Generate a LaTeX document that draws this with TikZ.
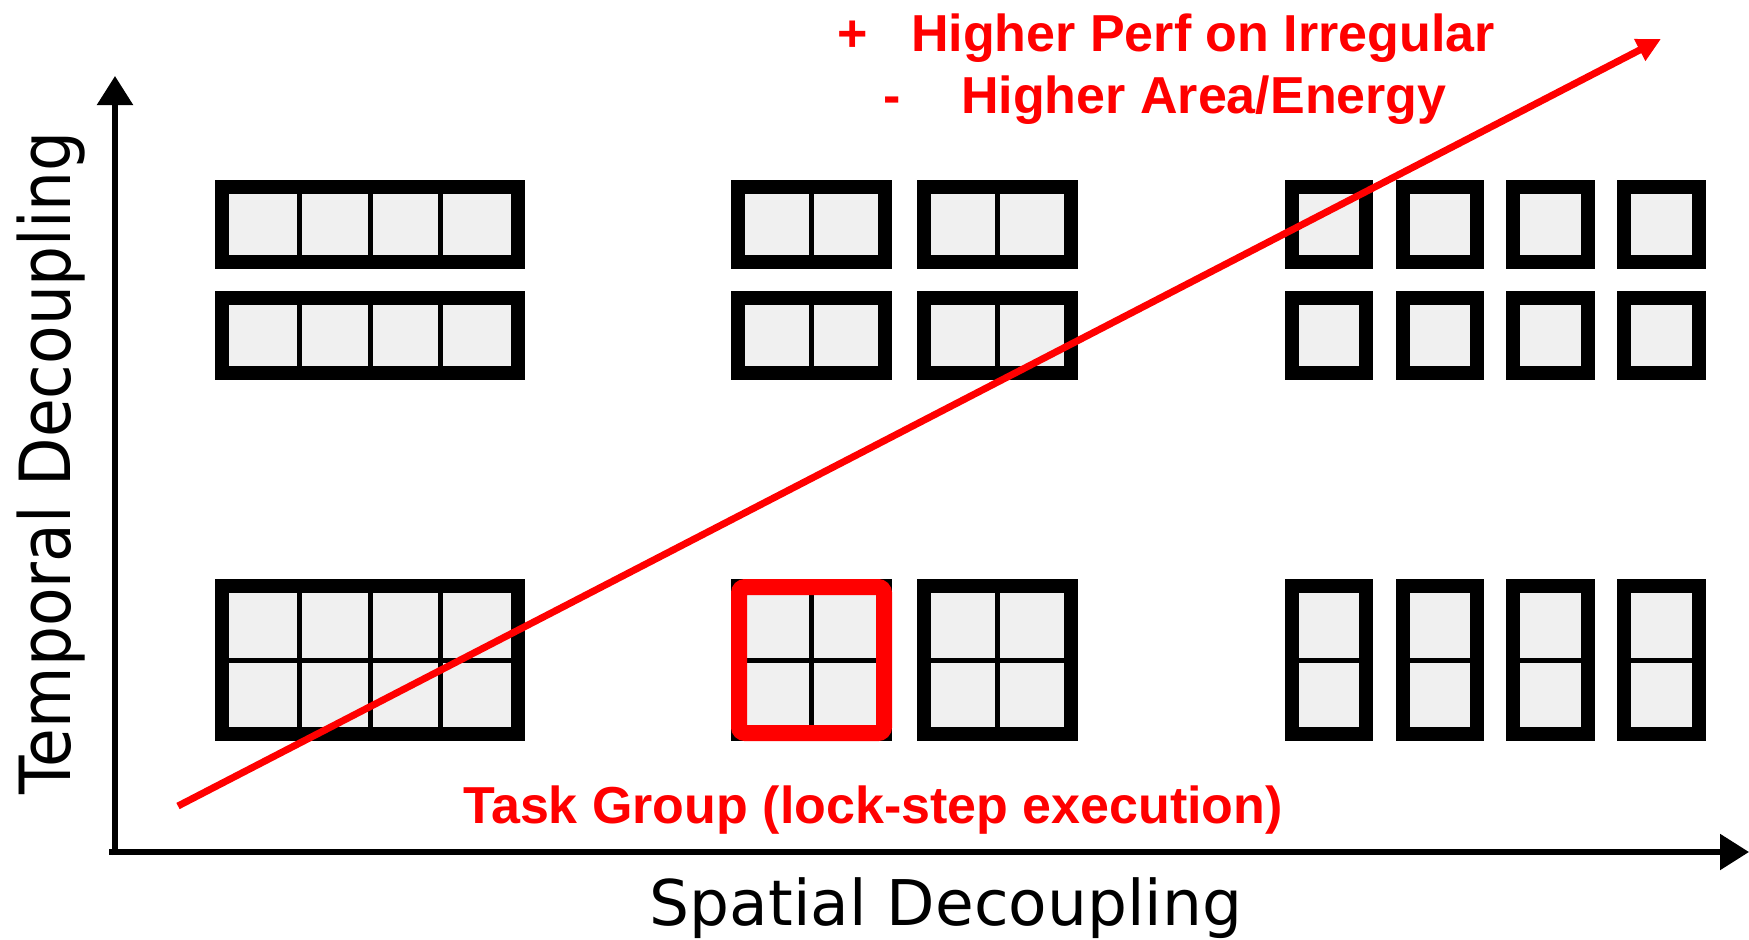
\documentclass[tikz,border=0pt]{standalone}
\usepackage{fontspec}
\usetikzlibrary{arrows.meta}
\newfontfamily\headfont{Liberation Sans}
\newfontfamily\axisfont{DejaVu Sans}
\definecolor{cellgray}{HTML}{F0F0F0}
\definecolor{hotred}{HTML}{FF0000}

% A framed panel of cells: x1, y1, x2, y2, columns, rows
\newcommand{\gridpanel}[6]{%
  \fill[black] (#1,#2) rectangle (#3,#4);
  \fill[cellgray] ({#1+14},{#2+14}) rectangle ({#3-14},{#4-14});
  \ifnum#5>1
    \foreach \i in {2,...,#5} {
      \draw[divider] ({#1+14+(\i-1)*(#3-#1-28)/#5},{#2+14}) -- ({#1+14+(\i-1)*(#3-#1-28)/#5},{#4-14});
    }
  \fi
  \ifnum#6>1
    \foreach \j in {2,...,#6} {
      \draw[divider] ({#1+14},{#2+14+(\j-1)*(#4-#2-28)/#6}) -- ({#3-14},{#2+14+(\j-1)*(#4-#2-28)/#6});
    }
  \fi
}

\begin{document}
\begin{tikzpicture}[x=1pt,y=-1pt,
  divider/.style={black,line width=5pt},
  axisline/.style={black,line width=5.5pt,-{Triangle[length=29pt,width=35pt]}},
  trendline/.style={hotred,line width=7pt,-{Triangle[length=24pt,width=23pt]}},
  redtext/.style={hotred,font=\headfont\bfseries\fontsize{52}{60}\selectfont,inner sep=0pt,anchor=base west},
  axislabel/.style={black,font=\axisfont\fontsize{63}{70}\selectfont,inner sep=0pt,anchor=base}]
\useasboundingbox (0,0) rectangle (1749,940);
\fill[white] (0,0) rectangle (1749,940);

% axes
\coordinate (ybottom) at (115,855);
\coordinate (ytop) at (115,76);
\coordinate (xleft) at (109,852);
\coordinate (xright) at (1749,852);
\draw[axisline] (ybottom) -- (ytop);
\draw[axisline] (xleft) -- (xright);

% left column: one wide group of four
\gridpanel{215}{180}{525}{269}{4}{1}
\gridpanel{215}{291}{525}{380}{4}{1}
\gridpanel{215}{579}{525}{741}{4}{2}

% middle column: groups of two
\gridpanel{731}{180}{892}{269}{2}{1}
\gridpanel{917}{180}{1078}{269}{2}{1}
\gridpanel{731}{291}{892}{380}{2}{1}
\gridpanel{917}{291}{1078}{380}{2}{1}
\gridpanel{731}{579}{892}{741}{2}{2}
\gridpanel{917}{579}{1078}{741}{2}{2}

% highlighted task group
\draw[hotred,line width=16pt,rounded corners=6pt] (739,587) rectangle (884,733);

% right column: single lanes
\foreach \xa/\xb in {1285/1373,1396/1484,1506/1595,1617/1706} {
  \gridpanel{\xa}{180}{\xb}{269}{1}{1}
  \gridpanel{\xa}{291}{\xb}{380}{1}{1}
  \gridpanel{\xa}{579}{\xb}{741}{1}{2}
}

% trend arrow
\coordinate (trendstart) at (178,806);
\coordinate (trendend) at (1661,39);
\draw[trendline] (trendstart) -- (trendend);

% annotations
\node[redtext] (plus) at (837,51) {+};
\node[redtext] (pro) at (911,51) {Higher Perf on Irregular};
\node[redtext] (minus) at (883,113) {-};
\node[redtext] (con) at (961,113) {Higher Area/Energy};
\node[redtext] (group) at (463,823) {Task Group (lock-step execution)};

% axis labels
\node[axislabel] (xlabel) at (946,925) {Spatial Decoupling};
\node[axislabel,rotate=90] (ylabel) at (70,463) {\scalebox{1}[1.12]{Temporal Decoupling}};
\end{tikzpicture}
\end{document}
